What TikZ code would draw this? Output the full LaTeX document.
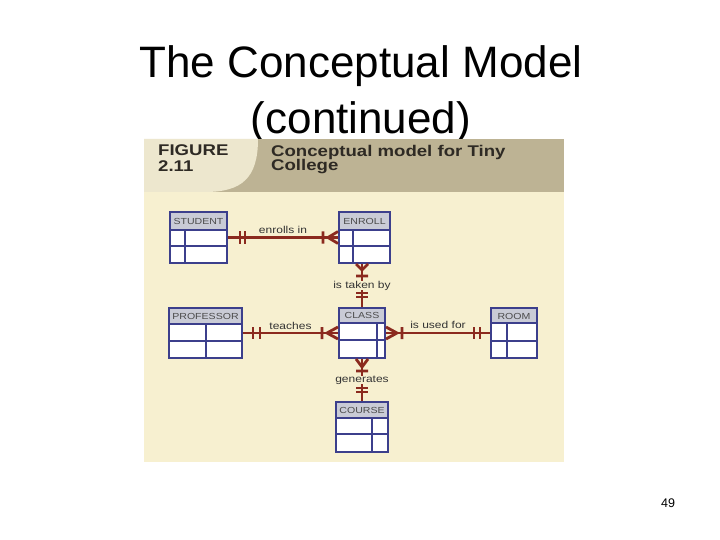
\documentclass[tikz,border=0pt]{standalone}
\usepackage{fontspec}
\setmainfont{Liberation Sans}
\newfontfamily\figfont[FakeStretch=1.2]{Liberation Sans}
\usetikzlibrary{calc,positioning}
\definecolor{bodybg}{HTML}{F7F0D0}
\definecolor{capbg}{HTML}{BDB394}
\definecolor{caplight}{HTML}{EDE7CE}
\definecolor{capdark}{HTML}{2E2A24}
\definecolor{entblue}{HTML}{3C3F8C}
\definecolor{hdrgray}{HTML}{C9CBD6}
\definecolor{relred}{HTML}{8B2A1E}

\tikzset{
  entity/.style={draw=entblue, line width=2pt, inner sep=0pt},
  hdr/.style={fill=hdrgray},
  grid/.style={draw=entblue, line width=1.7pt},
  ename/.style={font=\figfont\fontsize{8.8}{10}\selectfont, text=black!70},
  rel/.style={draw=relred, line width=2.8pt},
  rlbl/.style={font=\figfont\fontsize{10}{12}\selectfont, text=black!80, inner sep=1pt},
  captxt/.style={font=\figfont\bfseries\fontsize{15.5}{17}\selectfont, text=capdark, inner sep=0pt, anchor=base west}
}

\begin{document}
\begin{tikzpicture}[x=1pt,y=-1pt]
            \useasboundingbox[fill=white] (0,0) rectangle (720,540);
            % --- Slide title ---
            \node[font=\fontsize{44}{50}\selectfont, anchor=base] (title) at (361,78) {The Conceptual Model};
            \node[font=\fontsize{44}{50}\selectfont, anchor=base] (title2) at (361,134) {(continued)};
            \node[font=\fontsize{12.5}{14}\selectfont, anchor=base] (pagenum) at (668,507) {49};

            % --- Figure background ---
            \fill[bodybg] (144,139) rectangle (564,462);
            \fill[capbg] (144,139) rectangle (564,192);
            \fill[caplight] (144,139) -- (258,139) .. controls (258,178) and (242,192) .. (205,192) -- (144,192) -- cycle;
            \node[captxt] (fig) at (158,156) {FIGURE};
            \node[captxt] (fignum) at (158,172) {2.11};
            \node[captxt] (cap1) at (271,157) {Conceptual model for Tiny};
            \node[captxt] (cap2) at (271,171) {College};

            % --- STUDENT ---
            \fill[white] (170,212) rectangle (227,263);
            \fill[hdr] (170,212) rectangle (227,230);
            \draw[grid] (170,230) -- (227,230) (170,246) -- (227,246) (185,230) -- (185,263);
            \node[entity, minimum width=57pt, minimum height=51pt] (student) at (198.5,237.5) {};
            \node[ename] at (198.5,221) {STUDENT};

            % --- ENROLL ---
            \fill[white] (339,212) rectangle (390,263);
            \fill[hdr] (339,212) rectangle (390,230);
            \draw[grid] (339,230) -- (390,230) (339,246) -- (390,246) (353,230) -- (353,263);
            \node[entity, minimum width=51pt, minimum height=51pt] (enroll) at (364.5,237.5) {};
            \node[ename] at (364.5,221) {ENROLL};

            % --- PROFESSOR ---
            \fill[white] (169,308) rectangle (242,358);
            \fill[hdr] (169,308) rectangle (242,324);
            \draw[grid] (169,324) -- (242,324) (169,341) -- (242,341) (206,324) -- (206,358);
            \node[entity, minimum width=73pt, minimum height=50pt] (professor) at (205.5,333) {};
            \node[ename] at (205.5,316) {PROFESSOR};

            % --- CLASS ---
            \fill[white] (339,308) rectangle (385,358);
            \fill[hdr] (339,308) rectangle (385,323);
            \draw[grid] (339,323) -- (385,323) (339,340) -- (385,340) (377,323) -- (377,358);
            \node[entity, minimum width=46pt, minimum height=50pt] (class) at (362,333) {};
            \node[ename] at (362,315) {CLASS};

            % --- ROOM ---
            \fill[white] (491,308) rectangle (537,358);
            \fill[hdr] (491,308) rectangle (537,323);
            \draw[grid] (491,323) -- (537,323) (491,341) -- (537,341) (507,323) -- (507,358);
            \node[entity, minimum width=46pt, minimum height=50pt] (room) at (514,333) {};
            \node[ename] at (514,316) {ROOM};

            % --- COURSE ---
            \fill[white] (336,402) rectangle (388,452);
            \fill[hdr] (336,402) rectangle (388,418);
            \draw[grid] (336,418) -- (388,418) (336,434) -- (388,434) (372,418) -- (372,452);
            \node[entity, minimum width=52pt, minimum height=50pt] (course) at (362,427) {};
            \node[ename] at (362,410) {COURSE};

            % --- Relationships ---
            \draw[rel] (student) -- node[rlbl, above=1.5pt] (enrollsin) {enrolls in} (enroll);
            \draw[rel] ($(student.east)+(12,-6)$) -- ++(0,12) ($(student.east)+(17,-6)$) -- ++(0,12);
            \draw[rel] ($(enroll.west)+(0,-6)$) -- ++(-10,6) -- ++(10,6) ($(enroll.west)+(-15,-6)$) -- ++(0,12);

            \draw[rel] (enroll.south -| class.north) -- node[rlbl, fill=bodybg, inner sep=0pt] (takenby) {is taken by} (class.north);
            \draw[rel] ($(enroll.south -| class.north)+(-6,0)$) -- ++(6,6) -- ++(6,-6) ($(enroll.south -| class.north)+(-6,12)$) -- ++(12,0);
            \draw[rel] ($(class.north)+(-6,-10)$) -- ++(12,0) ($(class.north)+(-6,-14)$) -- ++(12,0);

            \draw[rel] (professor) -- node[rlbl, above=1.5pt] (teaches) {teaches} (class);
            \draw[rel] ($(professor.east)+(10,-6)$) -- ++(0,12) ($(professor.east)+(17,-6)$) -- ++(0,12);
            \draw[rel] ($(class.west)+(0,-6)$) -- ++(-11,6) -- ++(11,6) ($(class.west)+(-16,-6)$) -- ++(0,12);

            \draw[rel] (class) -- node[rlbl, above=2.5pt] (usedfor) {is used for} (room);
            \draw[rel] ($(class.east)+(0,-6)$) -- ++(11,6) -- ++(-11,6) ($(class.east)+(16,-6)$) -- ++(0,12);
            \draw[rel] ($(room.west)+(-16,-6)$) -- ++(0,12) ($(room.west)+(-10,-6)$) -- ++(0,12);

            \draw[rel] (class) -- node[rlbl, fill=bodybg, inner sep=0pt] (generates) {generates} (course);
            \draw[rel] ($(class.south)+(-6,0)$) -- ++(6,8) -- ++(6,-8) ($(class.south)+(-6,12)$) -- ++(12,0);
            \draw[rel] ($(course.north)+(-6,-13)$) -- ++(12,0) ($(course.north)+(-6,-9)$) -- ++(12,0);
        \end{tikzpicture}
\end{document}
